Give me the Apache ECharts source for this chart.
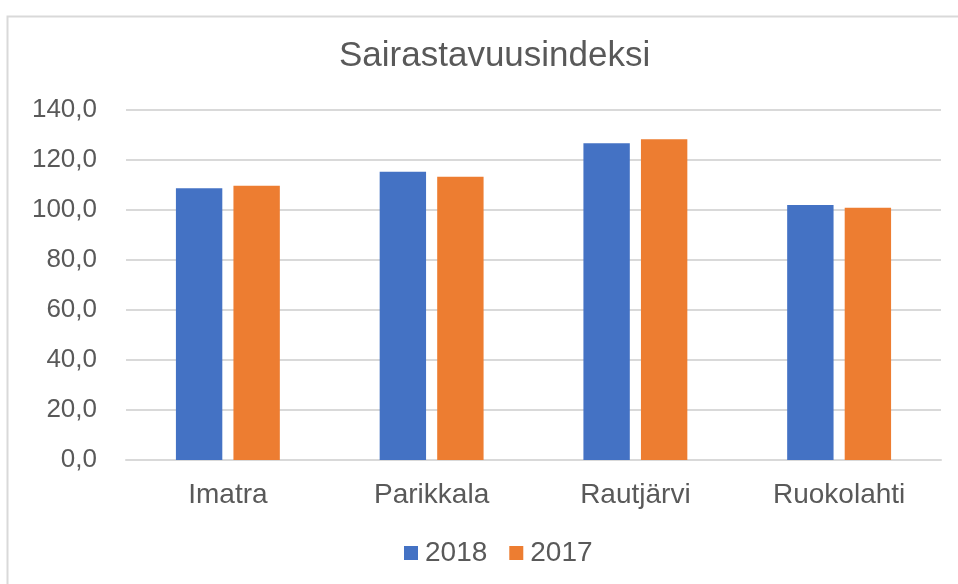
<!DOCTYPE html>
<html>
<head>
<meta charset="utf-8">
<script src="https://cdn.jsdelivr.net/npm/echarts@6/dist/echarts.min.js"></script>
<style>
html,body{margin:0;padding:0;background:#fff;}
#chart{width:958px;height:584px;}
</style>
</head>
<body>
<div id="chart"></div>
<script>
const categories = ['Imatra', 'Parikkala', 'Rautjärvi', 'Ruokolahti'];
const seriesNames = ['2018', '2017'];
const values2018 = [108.7, 115.3, 126.7, 102.0];
const values2017 = [109.7, 113.3, 128.3, 100.9];
const yTicks = [0, 20, 40, 60, 80, 100, 120, 140];

const textColor = '#595959';
const font = 'Liberation Sans, Arial, sans-serif';
const chart = echarts.init(document.getElementById('chart'), null, {renderer: 'canvas'});
chart.setOption({
  backgroundColor: '#fff',
  animation: false,
  graphic: [{
    type: 'rect',
    shape: {x: 7.5, y: 16.5, width: 1000, height: 700},
    style: {fill: 'none', stroke: '#d9d9d9', lineWidth: 2},
    silent: true
  }],
  title: {
    text: 'Sairastavuusindeksi',
    left: 334,
    top: 34,
    textStyle: {color: textColor, fontFamily: font, fontSize: 35, fontWeight: 'normal'}
  },
  legend: {
    data: seriesNames,
    top: 534,
    left: 399,
    itemWidth: 14,
    itemHeight: 14,
    itemGap: 22,
    icon: 'rect',
    textStyle: {color: textColor, fontFamily: font, fontSize: 28, padding: [0, 0, 0, 2]}
  },
  grid: {left: 126, right: 17, top: 110, bottom: 124, containLabel: false},
  xAxis: {
    type: 'category',
    data: categories,
    axisLine: {lineStyle: {color: '#d9d9d9', width: 2}},
    axisTick: {show: false},
    axisLabel: {color: textColor, fontFamily: font, fontSize: 28, margin: 21}
  },
  yAxis: {
    type: 'value',
    min: yTicks[0],
    max: yTicks[yTicks.length - 1],
    interval: yTicks[1] - yTicks[0],
    axisLine: {show: false},
    axisTick: {show: false},
    splitLine: {lineStyle: {color: '#d9d9d9', width: 2}},
    axisLabel: {
      color: textColor, fontFamily: font, fontSize: 26, margin: 29,
      formatter: v => v.toFixed(1).replace('.', ',')
    }
  },
  series: [
    {name: seriesNames[0], type: 'bar', data: values2018, itemStyle: {color: '#4472C4'}, barGap: '24%', barCategoryGap: '49%'},
    {name: seriesNames[1], type: 'bar', data: values2017, itemStyle: {color: '#ED7D31'}, barGap: '24%', barCategoryGap: '49%'}
  ]
});
</script>
</body>
</html>
